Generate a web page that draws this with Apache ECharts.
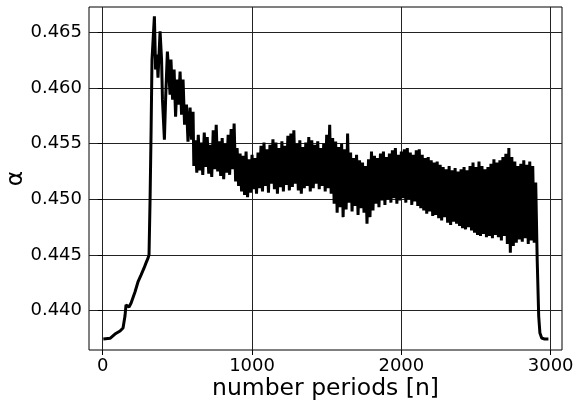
<!DOCTYPE html>
<html>
<head>
<meta charset="utf-8">
<script src="https://cdn.jsdelivr.net/npm/echarts@6/dist/echarts.min.js"></script>
<style>
html,body{margin:0;padding:0;background:#fff;}
#chart{width:574px;height:403px;}
</style>
</head>
<body>
<div id="chart"></div>
<script>
// number of periods (x) and alpha values (y)
const periods = [4,49,82,116,136,149,156,176,190,216,236,257,277,290,304,310,317,324,330,346,354,364,370,384,394,400,413,421,433,441,451,457,468,478,488,498,508,518,528,538,548,561,571,585,595,605,
610,620,630,640,650,660,670,680,690,700,710,720,730,740,750,760,770,780,790,800,810,820,830,840,850,860,870,880,890,
900,910,920,930,940,950,960,970,980,990,1000,1010,1020,1030,1040,
1050,1060,1070,1080,1090,1100,1110,1120,1130,1140,1150,1160,1170,1180,1190,1200,1210,1220,1230,1240,1250,1260,1270,1280,1290,
1300,1310,1320,1330,1340,1350,1360,1370,1380,1390,1400,1410,1420,1430,1440,1450,1460,1470,1480,1490,1500,1510,1520,1530,
1540,1550,1560,1570,1580,1590,1600,1610,1620,1630,1640,1650,1660,1670,1680,1690,1700,1710,1720,1730,1740,1750,1760,1770,1780,1790,
1800,1810,1820,1830,1840,1850,1860,1870,1880,1890,1900,1910,1920,1930,1940,1950,1960,1970,1980,1990,
2000,2010,2020,2030,2040,2050,2060,2070,2080,2090,2100,2110,2120,2130,2140,2150,2160,2170,2180,2190,2200,2210,2220,2230,2240,
2250,2260,2270,2280,2290,2300,2310,2320,2330,2340,2350,2360,2370,2380,2390,2400,
2410,2420,2430,2440,2450,2460,2470,2480,2490,2500,2510,2520,2530,2540,2550,2560,2570,2580,2590,
2600,2610,2620,2630,2640,2650,2660,2670,2680,2690,2700,2710,2720,2730,2740,2750,2760,2770,2780,
2790,2800,2810,2820,2830,2840,2850,2860,2870,2880,2890,
2900,2910,2920,2928,2940,2960,2985];
const alpha = [0.43745,0.43752,0.43790,0.43818,0.43845,0.43952,0.44051,0.44033,0.44069,0.44168,0.44258,0.44321,0.44384,0.44429,0.44474,0.44501,0.44996,0.45625,0.46255,0.46644,0.46165,0.4630,0.46092,0.46509,0.46255,0.45895,0.45535,0.45895,0.46327,0.46165,0.45940,0.46255,0.45895,0.46165,0.45742,0.46075,0.45850,0.46147,0.45760,0.46075,0.45670,0.45850,0.45517,0.45823,0.45535,0.45787,
0.4530,0.4553,0.4524,0.4558,0.4526,0.4551,0.4522,0.4560,0.4529,0.4556,0.4523,0.4549,0.4520,0.4562,0.4527,0.4567,0.4525,0.4552,0.4521,0.4555,0.4518,0.4550,0.4524,0.4558,0.4522,0.4563,0.4527,0.4568,0.4516,
0.4546,0.4512,0.4541,0.4507,0.4539,0.4504,0.4543,0.4502,0.4536,0.4506,0.4540,0.4509,0.4537,0.4505,0.4542,
0.4510,0.4548,0.4507,0.4551,0.4512,0.4545,0.4506,0.4549,0.4514,0.4554,0.4509,0.4551,0.4505,0.4546,0.4511,0.4552,0.4507,0.4548,0.4513,0.4557,0.4508,0.4559,0.4511,0.4562,0.4514,
0.4550,0.4508,0.4553,0.4505,0.4547,0.4510,0.4551,0.4512,0.4556,0.4507,0.4553,0.4510,0.4549,0.4514,0.4552,0.4509,0.4546,0.4512,0.4550,0.4507,0.4558,0.4510,0.4567,0.4505,
0.4555,0.4496,0.4552,0.4488,0.4547,0.4493,0.4550,0.4484,0.4545,0.4491,0.4559,0.4497,0.4542,0.4489,0.4537,0.4494,0.4540,0.4486,0.4535,0.4492,0.4533,0.4488,0.4530,0.4478,0.4536,0.4484,
0.4543,0.4490,0.4539,0.4496,0.4537,0.4493,0.4541,0.4499,0.4543,0.4495,0.4538,0.4500,0.4541,0.4497,0.4544,0.4501,0.4546,0.4496,0.4540,0.4499,
0.4543,0.4501,0.4545,0.4497,0.4546,0.4500,0.4542,0.4495,0.4540,0.4498,0.4544,0.4494,0.4545,0.4492,0.4540,0.4490,0.4537,0.4487,0.4538,0.4489,0.4535,0.4485,0.4533,0.4486,0.4534,
0.4483,0.4531,0.4481,0.4529,0.4484,0.4527,0.4479,0.4530,0.4477,0.4526,0.4480,0.4528,0.4478,0.4525,0.4476,0.4527,
0.4474,0.4529,0.4473,0.4526,0.4475,0.4530,0.4472,0.4533,0.4470,0.4529,0.4468,0.4534,0.4467,0.4530,0.4469,0.4527,0.4466,0.4529,0.4467,
0.4532,0.4465,0.4536,0.4468,0.4533,0.4466,0.4535,0.4463,0.4538,0.4467,0.4541,0.4460,0.4546,0.4452,0.4538,0.4458,0.4534,0.4461,0.4530,
0.4464,0.4532,0.4462,0.4535,0.4465,0.4531,0.4460,0.4534,0.4463,0.4530,0.4461,
0.4515,0.4445,0.4395,0.4380,0.43755,0.43745,0.43745];
const xTicks = [0, 1000, 2000, 3000];
const yTicks = [0.440, 0.445, 0.450, 0.455, 0.460, 0.465];

const seriesData = periods.map((p, i) => [p, alpha[i]]);
const FONT = 'DejaVu Sans';

const chart = echarts.init(document.getElementById('chart'));
chart.setOption({
  animation: false,
  backgroundColor: '#fff',
  grid: {left: 89, right: 12, top: 7, bottom: 53, outerBoundsMode: 'none',
         show: true, borderColor: '#000', borderWidth: 1},
  xAxis: {
    type: 'value', min: -92, max: 3076,
    name: 'number periods [n]', nameLocation: 'middle', nameGap: 27, nameMoveOverlap: false,
    nameTextStyle: {fontFamily: FONT, fontSize: 23.5, color: '#000'},
    axisLine: {show: false},
    axisTick: {show: true, length: 5, customValues: xTicks, lineStyle: {color: '#000'}},
    axisLabel: {customValues: xTicks, color: '#000', margin: 7, fontFamily: FONT, fontSize: 18, formatter: v => String(v)},
    splitLine: {show: true, lineStyle: {color: '#222', width: 1}}
  },
  yAxis: {
    type: 'value', min: 0.43647, max: 0.46727,
    name: 'α', nameLocation: 'middle', nameGap: 61, nameMoveOverlap: false,
    nameTextStyle: {fontFamily: FONT, fontSize: 23.5, color: '#000'},
    axisLine: {show: false},
    axisTick: {show: true, length: 5, customValues: yTicks, lineStyle: {color: '#000'}},
    axisLabel: {customValues: yTicks, color: '#000', margin: 7, fontFamily: FONT, fontSize: 18, formatter: v => v.toFixed(3)},
    splitLine: {show: true, lineStyle: {color: '#222', width: 1}}
  },
  series: [{
    type: 'line', data: seriesData, showSymbol: false, symbol: 'none',
    lineStyle: {color: '#000', width: 3}, z: 3
  }]
});
</script>
</body>
</html>
